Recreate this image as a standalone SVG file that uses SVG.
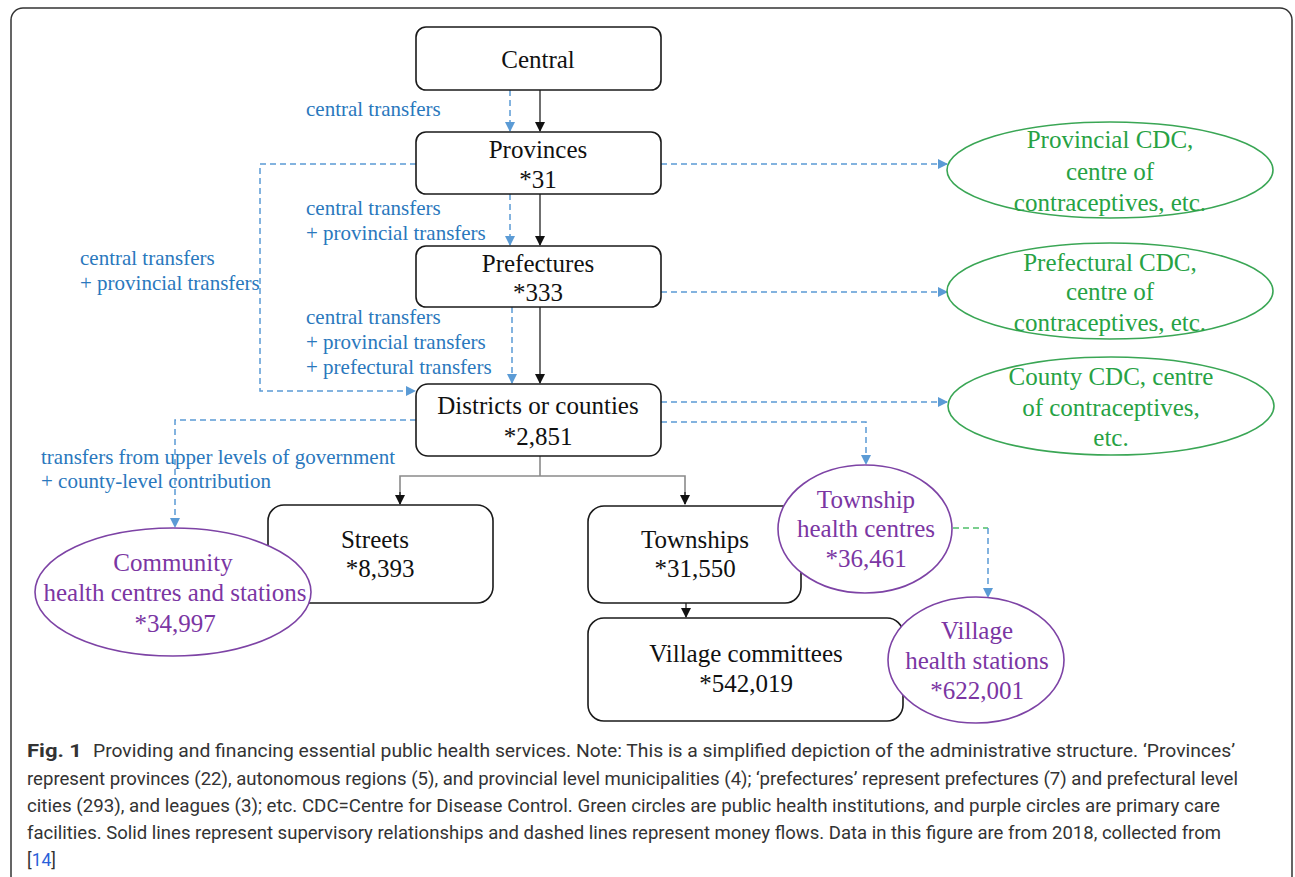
<svg xmlns="http://www.w3.org/2000/svg" width="1295" height="877" viewBox="0 0 1295 877">
<defs>
<style>
.box{fill:#fff;stroke:#1a1a1a;stroke-width:1.6}
.nt{font-family:"Liberation Serif","Times New Roman",serif;font-size:25px;fill:#111;text-anchor:middle}
.gt{font-family:"Liberation Serif","Times New Roman",serif;font-size:25px;fill:#27a244;text-anchor:middle}
.pt{font-family:"Liberation Serif","Times New Roman",serif;font-size:25px;fill:#7b36a3;text-anchor:middle}
.bl{font-family:"Liberation Serif","Times New Roman",serif;font-size:21px;fill:#2a78bd}
.gell{fill:#fff;stroke:#3aa655;stroke-width:1.6}
.pell{fill:#fff;stroke:#7d43a5;stroke-width:1.6}
.sol{fill:none;stroke:#222;stroke-width:1.3}
.gry{fill:none;stroke:#8a8a8a;stroke-width:1.6}
.dsh{fill:none;stroke:#5b9bd5;stroke-width:1.5;stroke-dasharray:6 4}
.gdsh{fill:none;stroke:#4fbf6a;stroke-width:1.5;stroke-dasharray:6 4}
.cap{font-family:Roboto,"Open Sans",sans-serif;font-size:17.5px;fill:#333}
</style>
<marker id="ab" markerWidth="10" markerHeight="10" refX="9" refY="5" orient="auto" markerUnits="userSpaceOnUse">
<path d="M0,0 L10,5 L0,10 z" fill="#111"/>
</marker>
<marker id="abl" markerWidth="10" markerHeight="10" refX="9" refY="5" orient="auto" markerUnits="userSpaceOnUse">
<path d="M0,0 L10,5 L0,10 z" fill="#5b9bd5"/>
</marker>
</defs>
<rect width="1295" height="877" fill="#fff"/>
<rect x="11" y="8" width="1281" height="880" rx="12" fill="none" stroke="#333" stroke-width="1.5"/>

<g id="connectors">
<line class="sol" x1="540" y1="90" x2="540" y2="131" marker-end="url(#ab)"/>
<line class="dsh" x1="510" y1="90" x2="510" y2="131" marker-end="url(#abl)"/>
<line class="sol" x1="540" y1="194" x2="540" y2="245" marker-end="url(#ab)"/>
<line class="dsh" x1="510" y1="194" x2="510" y2="245" marker-end="url(#abl)"/>
<line class="sol" x1="540" y1="307" x2="540" y2="383" marker-end="url(#ab)"/>
<line class="dsh" x1="512" y1="307" x2="512" y2="383" marker-end="url(#abl)"/>
<polyline class="dsh" points="416,164 260,164 260,391 415,391" marker-end="url(#abl)"/>
<line class="dsh" x1="661" y1="164" x2="947" y2="164" marker-end="url(#abl)"/>
<line class="dsh" x1="661" y1="292" x2="947" y2="292" marker-end="url(#abl)"/>
<line class="dsh" x1="661" y1="402" x2="947" y2="402" marker-end="url(#abl)"/>
<polyline class="dsh" points="661,422 866,422 866,464" marker-end="url(#abl)"/>
<polyline class="dsh" points="416,420 175,420 175,527" marker-end="url(#abl)"/>
<polyline class="gry" points="540,456 540,476"/>
<polyline class="gry" points="400,504 400,476 685,476 685,504"/>
<line class="sol" x1="400" y1="492" x2="400" y2="504" marker-end="url(#ab)"/>
<line class="sol" x1="685" y1="492" x2="685" y2="504" marker-end="url(#ab)"/>
<line class="sol" x1="686" y1="603" x2="686" y2="617" marker-end="url(#ab)"/>
<polyline class="gdsh" points="953,528 988,528"/>
<polyline class="dsh" points="988,528 988,597" marker-end="url(#abl)"/>
</g>

<g id="central"><rect class="box" x="416" y="27" width="245" height="63" rx="10"/><text class="nt" x="538" y="68">Central</text></g>
<g id="provinces"><rect class="box" x="416" y="132" width="245" height="62" rx="10"/><text class="nt" x="538" y="158">Provinces</text><text class="nt" x="538" y="188">*31</text></g>
<g id="prefectures"><rect class="box" x="416" y="246" width="245" height="61" rx="10"/><text class="nt" x="538" y="272">Prefectures</text><text class="nt" x="538" y="301">*333</text></g>
<g id="districts"><rect class="box" x="416" y="384" width="245" height="72" rx="12"/><text class="nt" x="538" y="414">Districts or counties</text><text class="nt" x="538" y="445">*2,851</text></g>
<g id="streets"><rect class="box" x="268" y="505" width="225" height="98" rx="16"/><text class="nt" x="375" y="548">Streets</text><text class="nt" x="380" y="577">*8,393</text></g>
<g id="townships"><rect class="box" x="588" y="506" width="213" height="97" rx="16"/><text class="nt" x="695" y="548">Townships</text><text class="nt" x="695" y="577">*31,550</text></g>
<g id="village-committees"><rect class="box" x="588" y="618" width="315" height="103" rx="16"/><text class="nt" x="746" y="662">Village committees</text><text class="nt" x="746" y="692">*542,019</text></g>

<g id="provincial-cdc"><ellipse class="gell" cx="1110" cy="170" rx="163" ry="48"/><text class="gt" x="1110" y="148">Provincial CDC,</text><text class="gt" x="1110" y="180">centre of</text><text class="gt" x="1110" y="211">contraceptives, etc.</text></g>
<g id="prefectural-cdc"><ellipse class="gell" cx="1110" cy="291" rx="163" ry="48"/><text class="gt" x="1110" y="271">Prefectural CDC,</text><text class="gt" x="1110" y="300">centre of</text><text class="gt" x="1110" y="331">contraceptives, etc.</text></g>
<g id="county-cdc"><ellipse class="gell" cx="1111" cy="406" rx="163" ry="49"/><text class="gt" x="1111" y="385">County CDC, centre</text><text class="gt" x="1111" y="416">of contraceptives,</text><text class="gt" x="1111" y="446">etc.</text></g>

<g id="community"><ellipse class="pell" cx="173" cy="592" rx="138" ry="64"/><text class="pt" x="173" y="571">Community</text><text class="pt" x="175" y="601">health centres and stations</text><text class="pt" x="175" y="632">*34,997</text></g>
<g id="township-health"><ellipse class="pell" cx="865" cy="529" rx="87" ry="64"/><text class="pt" x="866" y="508">Township</text><text class="pt" x="866" y="537">health centres</text><text class="pt" x="866" y="567">*36,461</text></g>
<g id="village-health"><ellipse class="pell" cx="976" cy="660" rx="88" ry="63"/><text class="pt" x="977" y="639">Village</text><text class="pt" x="977" y="669">health stations</text><text class="pt" x="977" y="699">*622,001</text></g>

<g id="labels">
<text class="bl" x="306" y="116">central transfers</text>
<text class="bl" x="306" y="215">central transfers</text>
<text class="bl" x="306" y="240">+ provincial transfers</text>
<text class="bl" x="80" y="265">central transfers</text>
<text class="bl" x="80" y="290">+ provincial transfers</text>
<text class="bl" x="306" y="324">central transfers</text>
<text class="bl" x="306" y="349">+ provincial transfers</text>
<text class="bl" x="306" y="374">+ prefectural transfers</text>
<text class="bl" x="41" y="464">transfers from upper levels of government</text>
<text class="bl" x="41" y="488">+ county-level contribution</text>
</g>

<g id="caption">
<text class="cap" x="27" y="757" font-weight="bold" fill="#222" textLength="55" lengthAdjust="spacingAndGlyphs">Fig. 1</text>
<text class="cap" x="93" y="757" textLength="1142" lengthAdjust="spacingAndGlyphs">Providing and financing essential public health services. Note: This is a simplified depiction of the administrative structure. ‘Provinces’</text>
<text class="cap" x="27" y="785" textLength="1211" lengthAdjust="spacingAndGlyphs">represent provinces (22), autonomous regions (5), and provincial level municipalities (4); ‘prefectures’ represent prefectures (7) and prefectural level</text>
<text class="cap" x="27" y="812" textLength="1193" lengthAdjust="spacingAndGlyphs">cities (293), and leagues (3); etc. CDC=Centre for Disease Control. Green circles are public health institutions, and purple circles are primary care</text>
<text class="cap" x="27" y="839" textLength="1194" lengthAdjust="spacingAndGlyphs">facilities. Solid lines represent supervisory relationships and dashed lines represent money flows. Data in this figure are from 2018, collected from</text>
<text class="cap" x="27" y="866">[<tspan fill="#2b5fd9">14</tspan>]</text>
</g>
</svg>
